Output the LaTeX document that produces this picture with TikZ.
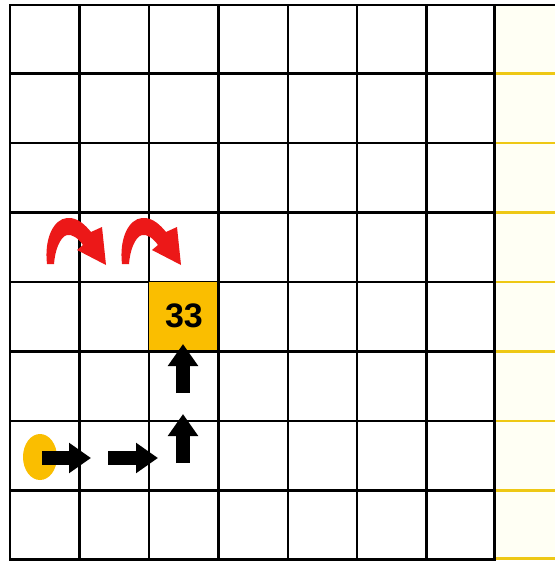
\documentclass[tikz,border=0pt]{standalone}
\usepackage{fontspec}
\setmainfont{Liberation Sans}
\usetikzlibrary{arrows.meta}
\definecolor{gold}{RGB}{250,190,0}
\definecolor{lightyel}{RGB}{255,255,244}
\definecolor{yline}{RGB}{238,200,20}
\definecolor{arrred}{RGB}{236,24,24}
\begin{document}
\begin{tikzpicture}[x=1pt,y=-1pt,
  gridline/.style={line width=2.3pt,black},
  yelline/.style={line width=2.4pt,yline},
  blockarrow/.style={line width=13.5pt,black,-{Triangle[width=29pt,length=22pt]}},
  curvearrow/.style={fill=arrred}]
\useasboundingbox (0,0) rectangle (555,562);
\fill[white] (0,0) rectangle (555,562);
% yellow side region
\fill[lightyel] (494.5,5) rectangle (555,559.5);
\foreach \y in {73.6,143,212.5,282,351.5,421,490.5,558.5}
  \draw[yelline] (494.5,\y) -- (555,\y);
% grid
\foreach \x in {10,79.5,149,218.5,288,357,426.5,494.5}
  \draw[gridline] (\x,5) -- (\x,559.5);
\foreach \y in {73.6,143,212.5,282,351.5,421,490.5,559.5}
  \draw[gridline] (9,\y) -- (495.5,\y);
\draw[gridline] (9,5) -- (555,5);
% goal box
\node[fill=gold,minimum width=70pt,minimum height=69pt,inner sep=0pt,
  font=\bfseries\fontsize{34}{34}\selectfont] (goal) at (184,316.2) {33};
\draw[gridline] (218.5,280) -- (218.5,353);
\draw[gridline] (147,351.5) -- (220,351.5);
% start marker
\fill[gold] (40,457) ellipse [x radius=17, y radius=23];
% path arrows
\coordinate (r1s) at (42,458);  \coordinate (r1e) at (91,458);
\coordinate (r2s) at (108,458); \coordinate (r2e) at (158,458);
\coordinate (u1s) at (183,463); \coordinate (u1e) at (183,414);
\coordinate (u2s) at (183,393); \coordinate (u2e) at (183,344);
\draw[blockarrow] (r1s) -- (r1e);
\draw[blockarrow] (r2s) -- (r2e);
\draw[blockarrow] (u1s) -- (u1e);
\draw[blockarrow] (u2s) -- (u2e);
% red curved arrows
\foreach \dx in {0,75}{
\begin{scope}[shift={(\dx,0)}]
\path[curvearrow] (47,264) .. controls (44,238) and (54,219) .. (67,218)
  .. controls (78,217) and (86,226) .. (91,232) -- (102,227) -- (106,265)
  -- (77,250) -- (83,245) .. controls (78,238) and (72,234) .. (67,235)
  .. controls (60,237) and (55,250) .. (54,264) -- cycle;
\end{scope}}
\end{tikzpicture}
\end{document}
